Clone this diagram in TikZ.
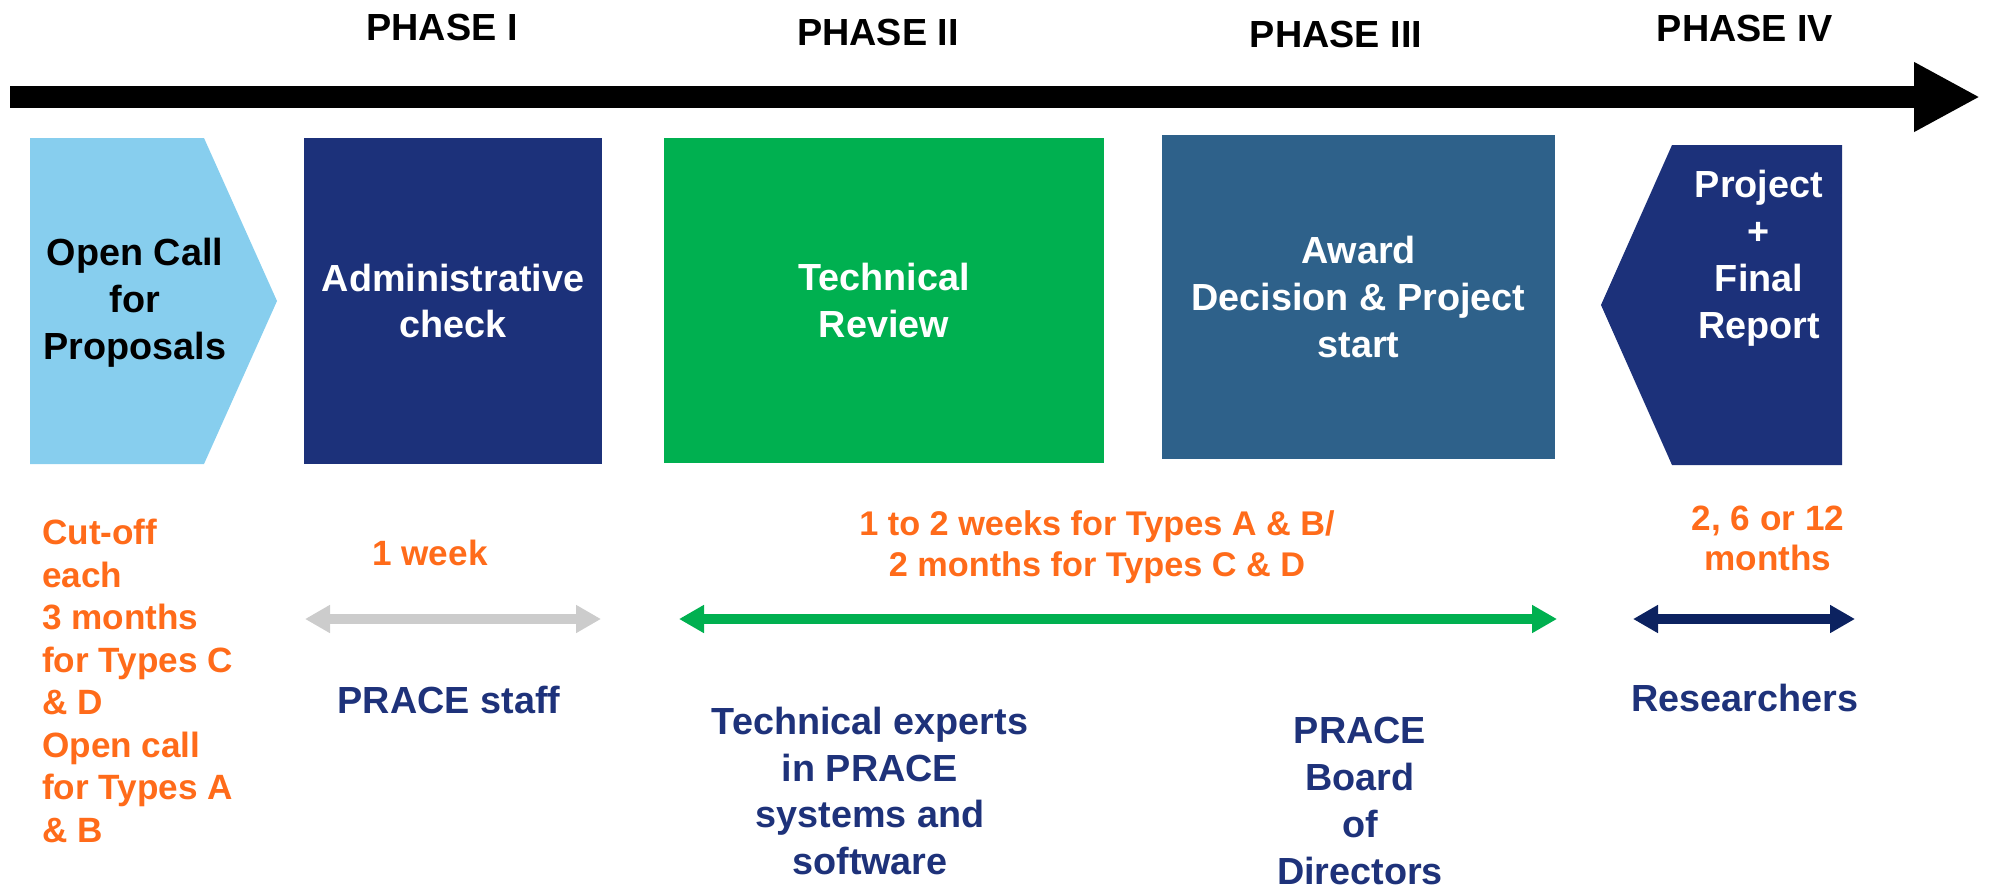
\documentclass[tikz,border=0pt]{standalone}
\usepackage{fontspec}
\setmainfont{Liberation Sans}
\usetikzlibrary{arrows.meta}
\definecolor{callblue}{RGB}{135,206,238}
\definecolor{navybox}{RGB}{28,49,122}
\definecolor{reviewgreen}{RGB}{0,176,80}
\definecolor{awardblue}{RGB}{46,97,138}
\definecolor{durorange}{RGB}{255,107,26}
\definecolor{navytext}{RGB}{30,50,122}
\definecolor{navyarrow}{RGB}{12,34,96}
\definecolor{weekgray}{RGB}{204,204,204}
\tikzstyle{phase} = [text=black, font=\fontsize{21.5pt}{26pt}\selectfont\bfseries]
\tikzstyle{box} = [rectangle, inner sep=0pt, draw=none, align=center, text=white, font=\fontsize{21.5pt}{26.7pt}\selectfont\bfseries]
\tikzstyle{boxtext} = [align=center, font=\fontsize{21.5pt}{26.7pt}\selectfont\bfseries]
\tikzstyle{duration} = [align=center, text=durorange, font=\fontsize{20pt}{23pt}\selectfont\bfseries]
\tikzstyle{who} = [align=center, text=navytext, font=\fontsize{21.5pt}{26.7pt}\selectfont\bfseries]
\tikzstyle{span} = [line width=0.19cm, {Triangle[width=0.53cm,length=0.5cm]}-{Triangle[width=0.53cm,length=0.5cm]}]
\tikzstyle{timeline} = [line width=0.44cm, -{Triangle[width=1.3cm,length=1.32cm]}]

\begin{document}
\begin{tikzpicture}[x=0.02cm, y=-0.02cm]
\useasboundingbox (0,0) rectangle (1990,889);
% timeline
\coordinate (lineL) at (10,97);
\coordinate (lineR) at (1980,97);
\draw[timeline] (lineL) -- (lineR);
\node[phase] (ph1) at (442,27) {PHASE I};
\node[phase] (ph2) at (878,32) {PHASE II};
\node[phase] (ph3) at (1336,34) {PHASE III};
\node[phase] (ph4) at (1745,28) {PHASE IV};
% phase boxes
\fill[callblue] (30,138) -- (204,138) -- (277,301) -- (204,464) -- (30,464) -- cycle;
\node[boxtext] (open) at (135,303) {Open Call\\for\\Proposals};
\node[box, fill=navybox, minimum width=5.96cm, minimum height=6.52cm] (admin) at (453,301) {Administrative\\check};
\node[box, fill=reviewgreen, minimum width=8.8cm, minimum height=6.5cm] (review) at (884,300.5) {Technical\\Review};
\node[box, fill=awardblue, minimum width=7.86cm, minimum height=6.48cm] (award) at (1358.5,297) {Award\\Decision \& Project\\start};
\fill[navybox] (1842,145) -- (1672,145) -- (1601,305) -- (1672,465) -- (1842,465) -- cycle;
\node[boxtext, text=white] (project) at (1759,258) {Project\\+\\Final\\Report};
% durations
\node[duration, align=left, font=\fontsize{20pt}{24.2pt}\selectfont\bfseries, anchor=west] (cutoff) at (36,681) {Cut-off\\each\\3 months\\for Types C\\\& D\\Open call\\for Types A\\\& B};
\node[duration] (week) at (430,553) {1 week};
\node[duration, font=\fontsize{19.5pt}{23.3pt}\selectfont\bfseries] (weeks) at (1097,547) {1 to 2 weeks for Types A \& B/\\2 months for Types C \& D};
\node[duration, font=\fontsize{20pt}{22.8pt}\selectfont\bfseries] (months) at (1768,538) {2, 6 or 12\\months};
% spans
\coordinate (weekL) at (305,619);
\coordinate (weekR) at (601,619);
\coordinate (revL) at (679,619);
\coordinate (revR) at (1557,619);
\coordinate (projL) at (1633,619);
\coordinate (projR) at (1855,619);
\draw[span, weekgray] (weekL) -- (weekR);
\draw[span, reviewgreen] (revL) -- (revR);
\draw[span, navyarrow] (projL) -- (projR);
% who
\node[who] (staff) at (449,700) {PRACE staff};
\node[who] (experts) at (870,791) {Technical experts\\in PRACE\\systems and\\software};
\node[who] (board) at (1360,801) {PRACE\\Board\\of\\Directors};
\node[who] (research) at (1745,698) {Researchers};
\end{tikzpicture}
\end{document}
